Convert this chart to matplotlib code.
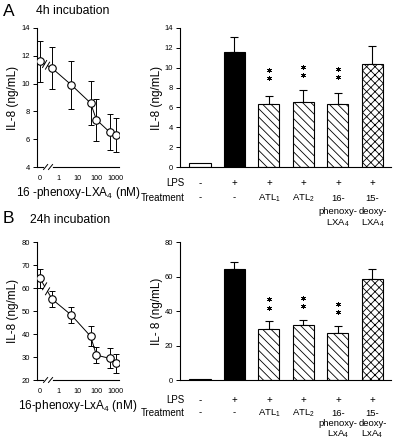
import matplotlib
matplotlib.use("Agg")
import matplotlib.pyplot as plt
import numpy as np

plt.rcParams['font.family'] = ['Liberation Sans', 'DejaVu Sans']
plt.rcParams['mathtext.fontset'] = 'custom'
plt.rcParams['mathtext.rm'] = 'Liberation Sans'
plt.rcParams['mathtext.it'] = 'Liberation Sans'
plt.rcParams['hatch.linewidth'] = 0.6

# ---- dose response data (nM) ----
doses = [0, 0.5, 5, 50, 100, 500, 1000]
zero_pos = 0.115  # where the 0 dose sits on the log axis
dose_ticks = [zero_pos, 1, 10, 100, 1000]
dose_ticklabels = ['0', '1', '10', '100', '1000']

il8_4h = [11.6, 11.1, 9.9, 8.6, 7.4, 6.5, 6.3]
err_4h = [1.5, 1.5, 1.7, 1.6, 1.5, 1.3, 1.2]
il8_24h = [64.2, 55.1, 48.2, 39.0, 30.8, 29.4, 27.2]
err_24h = [4.1, 3.5, 3.4, 4.3, 3.4, 4.3, 4.3]

# ---- bar data ----
lps_row = ['-', '+', '+', '+', '+', '+']
treat_4h = [['-'], ['-'], [r'ATL$_1$'], [r'ATL$_2$'],
            ['16-', 'phenoxy-', r'LXA$_4$'], ['15-', 'deoxy-', r'LXA$_4$']]
treat_24h = [['-'], ['-'], [r'ATL$_1$'], [r'ATL$_2$'],
             ['16-', 'phenoxy-', r'LxA$_4$'], ['15-', 'deoxy-', r'LxA$_4$']]
bar_4h = [0.4, 11.6, 6.3, 6.5, 6.3, 10.4]
bar_err_4h = [0, 1.5, 0.9, 1.3, 1.2, 1.8]
bar_24h = [0.3, 64.5, 29.7, 31.6, 27.0, 58.8]
bar_err_24h = [0, 3.9, 4.6, 3.1, 4.2, 5.7]
star_idx = [2, 3, 4]
stars_4h = [(9.0, 9.8), (9.3, 10.1), (9.1, 9.9)]
stars_24h = [(42.0, 46.8), (42.7, 47.5), (39.5, 44.3)]

colors = ['white', 'black', 'white', 'white', 'white', 'white']
hatches = [None, None, '\\\\\\\\', '\\\\\\\\', '\\\\\\\\', 'xxxx']

fig = plt.figure(figsize=(4.0, 4.44), dpi=100)


def pos(l, b, w, h):
    W, H = 400, 444
    return [l / W, 1 - (b) / H, w / W, h / H]


def style(ax):
    for s in ['top', 'right']:
        ax.spines[s].set_visible(False)
    for s in ['left', 'bottom']:
        ax.spines[s].set_linewidth(0.8)
    ax.tick_params(labelsize=5.5, width=0.7, length=3, pad=2)


def dose_panel(ax, y, err, ylim, yticks, xlabel):
    style(ax)
    xs = [d if d > 0 else zero_pos for d in doses]
    ax.set_xscale('log')
    ax.set_xlim(0.081, 1500)
    ax.set_ylim(*ylim)
    ax.set_yticks(yticks)
    ax.set_xticks(dose_ticks)
    ax.set_xticklabels(dose_ticklabels)
    ax.minorticks_off()
    ax.tick_params(axis='x', length=0, pad=6, labelsize=5.2)
    ax.errorbar(xs, y, yerr=err, fmt='none', ecolor='black', elinewidth=0.7,
                capsize=2.2, capthick=0.7, zorder=2)
    ax.plot(xs[1:], y[1:], color='black', lw=0.7, zorder=3)
    # broken segment between 0 and first dose
    t = ax.transData
    inv = ax.transAxes.inverted()
    p0 = inv.transform(t.transform((xs[0], y[0])))
    p1 = inv.transform(t.transform((xs[1], y[1])))
    a = p0 + 0.38 * (p1 - p0)
    b = p0 + 0.62 * (p1 - p0)
    ax.plot([p0[0], a[0]], [p0[1], a[1]], color='black', lw=0.7,
            transform=ax.transAxes, zorder=3)
    ax.plot([b[0], p1[0]], [b[1], p1[1]], color='black', lw=0.7,
            transform=ax.transAxes, zorder=3)
    for c in (a, b):
        ax.plot([c[0] - 0.025, c[0] + 0.025], [c[1] - 0.025, c[1] + 0.025],
                color='black', lw=0.7, transform=ax.transAxes, zorder=3)
    ax.plot(xs, y, 'o', mfc='white', mec='black', ms=5.4, mew=0.8, zorder=4)
    # break on x axis
    ax.plot([0.1, 0.17], [0, 0], color='white', lw=2, transform=ax.transAxes,
            clip_on=False, zorder=5)
    for cx in (0.105, 0.165):
        ax.plot([cx - 0.025, cx + 0.025], [-0.018, 0.018], color='black', lw=0.7,
                transform=ax.transAxes, clip_on=False, zorder=6)
    ax.set_ylabel('IL-8 (ng/mL)', fontsize=8.5, labelpad=2)
    ax.set_xlabel(xlabel, fontsize=8.5, labelpad=2)


def bar_panel(ax, vals, errs, ylim, yticks, stars, treat, ylabel, offs):
    style(ax)
    x = np.arange(len(vals))
    ax.bar(x, vals, width=0.61, color=colors, edgecolor='black', linewidth=0.8,
           hatch=hatches, zorder=2)
    for xi, v, e in zip(x, vals, errs):
        if e > 0:
            ax.errorbar(xi, v, yerr=[[0], [e]], fmt='none', ecolor='black',
                        elinewidth=0.8, capsize=2.6, capthick=0.8, zorder=1)
    for i, pair in zip(star_idx, stars):
        ax.plot([x[i]] * len(pair), pair, linestyle='none', marker=(6, 2, 0),
                ms=3.6, mew=0.55, color='black')
    ax.set_xlim(-0.58, 5.54)
    ax.set_ylim(*ylim)
    ax.set_yticks(yticks)
    ax.set_xticks([])
    ax.set_ylabel(ylabel, fontsize=8.5, labelpad=1)
    tr = ax.get_xaxis_transform()
    for xi, s in zip(x, lps_row):
        ax.annotate(s, (xi, 0), xycoords=tr, xytext=(0, -offs[0]),
                    textcoords='offset points', ha='center', va='center', fontsize=7)
    for xi, lines in zip(x, treat):
        for k, s in enumerate(lines):
            ax.annotate(s, (xi, 0), xycoords=tr, xytext=(0, -offs[1 + k]),
                        textcoords='offset points', ha='center', va='center',
                        fontsize=6.8)
    ax.annotate('LPS', (-0.45, 0), xycoords=tr, xytext=(0, -offs[0]),
                textcoords='offset points', ha='right', va='center', fontsize=7)
    ax.annotate('Treatment', (-0.45, 0), xycoords=tr, xytext=(0, -offs[1]),
                textcoords='offset points', ha='right', va='center', fontsize=7)


axA1 = fig.add_axes(pos(37, 167, 82, 139))
axA2 = fig.add_axes(pos(180, 167, 211, 139))
axB1 = fig.add_axes(pos(37, 380, 82, 138))
axB2 = fig.add_axes(pos(180, 380, 211, 138))

dose_panel(axA1, il8_4h, err_4h, (4, 14), range(4, 15, 2), r'16 -phenoxy-LXA$_4$ (nM)')
dose_panel(axB1, il8_24h, err_24h, (20, 80), range(20, 81, 10), r'16-phenoxy-LxA$_4$ (nM)')
px = 0.72
bar_panel(axA2, bar_4h, bar_err_4h, (0, 14), range(0, 15, 2), stars_4h, treat_4h,
          'IL-8 (ng/mL)', [16 * px, 31 * px, 44 * px, 56 * px])
bar_panel(axB2, bar_24h, bar_err_24h, (0, 80), range(0, 81, 20), stars_24h, treat_24h,
          'IL- 8 (ng/mL)', [20 * px, 33 * px, 43.5 * px, 54 * px])

fig.text(3 / 400, 1 - 11 / 444, 'A', fontsize=12.5, va='center', ha='left')
fig.text(36 / 400, 1 - 11 / 444, '4h incubation', fontsize=8.8, va='center', ha='left')
fig.text(3 / 400, 1 - 218 / 444, 'B', fontsize=12.5, va='center', ha='left')
fig.text(30 / 400, 1 - 220 / 444, '24h incubation', fontsize=8.8, va='center', ha='left')

fig.savefig('out.png', dpi=100)
